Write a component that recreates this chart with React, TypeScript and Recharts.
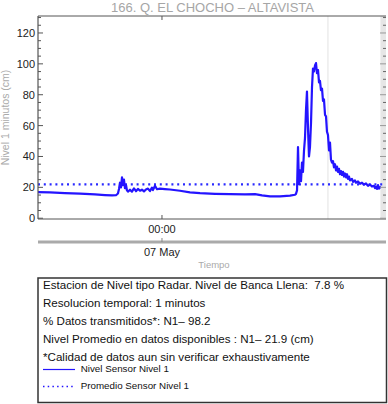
import React from 'react';
import { LineChart, Line, XAxis, YAxis, ReferenceLine, ReferenceArea } from 'recharts';

const FONT = '"Liberation Sans", Arial, Helvetica, sans-serif';

// ---- texts ----
const chartTitle = '166. Q. EL CHOCHO – ALTAVISTA';
const yAxisTitle = 'Nivel 1 minutos (cm)';
const xAxisTitle = 'Tiempo';
const infoLines = [
  'Estacion de Nivel tipo Radar. Nivel de Banca Llena:  7.8 %',
  'Resolucion temporal: 1 minutos',
  '% Datos transmitidos*: N1– 98.2',
  'Nivel Promedio en datos disponibles : N1– 21.9 (cm)',
  '*Calidad de datos aun sin verificar exhaustivamente',
];
const seriesNames = ['Nivel Sensor Nivel 1', 'Promedio Sensor Nivel 1'];

// ---- axes ----
const timeTicks = [0]; // hours from 07 May 00:00
const timeTickLabels = ['00:00'];
const dateTickLabels = ['07 May'];
const xDomain = [-17.71, 32];
const yDomain = [-0.5, 131];
const yTicks = [0, 5, 10, 15, 20, 25, 30, 35, 40, 45, 50, 55, 60, 65, 70, 75, 80, 85, 90, 95, 100, 105, 110, 115, 120, 125, 130];
const yLabelStep = 20;
const markerHour = 23.71;
const bandStartHour = 31.2;
const promedioNivel = 21.9;

// ---- series: hours from 07 May 00:00, level in cm ----
const hours = [
  -17.71, -16.0, -13.86, -11.71, -9.57, -8.14, -7.14, -6.57, -6.29, -6.14,
  -6.0, -5.86, -5.71, -5.57, -5.43, -5.29, -5.14, -5.0, -4.86, -4.57,
  -4.29, -4.0, -3.71, -3.43, -3.14, -2.86, -2.57, -2.29, -2.0, -1.71,
  -1.43, -1.29, -1.0, -0.71, -0.29, 0.43, 1.14, 2.57, 4.0, 5.43,
  7.57, 9.71, 11.86, 13.29, 14.29, 15.43, 16.86, 18.29, 19.0, 19.14,
  19.29, 19.43, 19.57, 19.71, 19.86, 20.0, 20.14, 20.29, 20.43, 20.57,
  20.71, 20.86, 21.0, 21.14, 21.29, 21.43, 21.57, 21.71, 21.86, 22.0,
  22.14, 22.29, 22.43, 22.57, 22.71, 22.86, 23.0, 23.14, 23.29, 23.43,
  23.57, 23.71, 23.86, 24.0, 24.14, 24.29, 24.43, 24.57, 24.71, 24.86,
  25.0, 25.14, 25.29, 25.43, 25.57, 25.71, 25.86, 26.0, 26.14, 26.29,
  26.43, 26.57, 26.71, 26.86, 27.14, 27.29, 27.57, 27.71, 28.0, 28.29,
  28.57, 28.86, 29.14, 29.43, 29.71, 30.0, 30.29, 30.43, 30.57, 30.71,
  30.86, 31.0, 31.14, 31.29,
];
const nivel = [
  16.9, 16.7, 16.3, 15.9, 15.4, 15.0, 14.8, 14.9, 16.0, 19.0,
  23.0, 20.0, 26.5, 21.5, 25.0, 19.5, 21.5, 18.0, 17.2, 18.5,
  17.2, 19.3, 17.5, 19.0, 17.8, 18.5, 17.4, 18.6, 19.2, 17.6,
  19.8, 18.2, 21.0, 18.8, 19.2, 18.9, 18.6, 17.8, 16.8, 16.2,
  15.8, 15.6, 15.5, 15.6, 14.8, 14.1, 14.1, 14.6, 15.2, 15.8,
  18.0, 46.0, 22.0, 31.0, 24.0, 36.0, 30.0, 44.0, 52.0, 70.0,
  82.0, 58.0, 40.0, 46.0, 62.0, 85.0, 97.0, 95.0, 99.0, 100.5,
  94.0, 96.0, 88.0, 89.0, 83.0, 84.0, 76.0, 77.0, 67.0, 66.0,
  56.0, 54.0, 44.0, 49.0, 38.0, 36.0, 37.0, 33.0, 35.0, 31.0,
  33.5, 30.0, 32.0, 28.5, 30.5, 28.0, 30.0, 27.0, 29.0, 26.5,
  28.5, 25.5, 27.0, 24.5, 25.5, 23.5, 24.5, 23.0, 23.8, 22.3,
  23.0, 21.8, 22.5, 21.0, 21.8, 20.5, 21.0, 19.5, 20.5, 19.0,
  21.5, 19.2, 20.0, 20.3,
];

const data = hours.map((h, i) => ({ h, nivel: nivel[i] }));

// ---- layout ----
const W = 388;
const CHART_H = 278;
const PLOT_RIGHT = 386;
const LINE_COLOR = '#2414ff';
const AXIS_COLOR = '#555555';

const YTick = (props: any) => {
  const { x, y, payload } = props;
  const v = payload.value as number;
  const major = v % yLabelStep === 0;
  const ax = x + 3;
  return (
    <g>
      <line x1={ax} x2={ax + (major ? 5 : 3)} y1={y} y2={y} stroke={AXIS_COLOR} strokeWidth={1} />
      <line x1={PLOT_RIGHT} x2={PLOT_RIGHT - (major ? 6 : 3)} y1={y} y2={y} stroke={major ? '#999' : '#666'} strokeWidth={1} />
      {major && v <= 120 && (
        <text x={x} y={y} dy="0.36em" textAnchor="end" fontSize={11} fill="#222" fontFamily={FONT}>
          {v}
        </text>
      )}
    </g>
  );
};

const TimeTick = (props: any) => {
  const { x, y, index } = props;
  return (
    <g>
      <line x1={x} x2={x} y1={y} y2={y - 4} stroke={AXIS_COLOR} />
      <text x={x} y={y + 14} textAnchor="middle" fontSize={11} fill="#222" fontFamily={FONT}>
        {timeTickLabels[index]}
      </text>
    </g>
  );
};

const DateTick = (props: any) => {
  const { x, y, index } = props;
  return (
    <g>
      <line x1={x} x2={x} y1={y} y2={y - 4} stroke="#888" />
      <text x={x} y={y + 13.7} textAnchor="middle" fontSize={11} fill="#222" fontFamily={FONT}>
        {dateTickLabels[index]}
      </text>
    </g>
  );
};

const TopTick = (props: any) => {
  const { x, y } = props;
  return <line x1={x} x2={x} y1={y} y2={y + 4} stroke={AXIS_COLOR} />;
};

export default function App() {
  return (
    <div style={{ position: 'absolute', left: 0, top: 0, width: W, height: 404, background: '#fff', fontFamily: FONT }}>
      <LineChart
        width={W}
        height={CHART_H}
        data={data}
        margin={{ top: 15, right: 2, bottom: 0, left: 0 }}
      >
        <ReferenceArea
          xAxisId="x1time"
          yAxisId="level"
          x1={bandStartHour}
          x2={xDomain[1]}
          y1={yDomain[0]}
          y2={yDomain[1]}
          fill="#e6e6e6"
          fillOpacity={1}
          stroke="none"
          ifOverflow="visible"
        />
        <ReferenceLine xAxisId="x1time" yAxisId="level" x={markerHour} stroke="#e2e2e2" strokeWidth={1} />
        <XAxis
          xAxisId="x0top"
          orientation="top"
          type="number"
          dataKey="h"
          domain={xDomain}
          allowDataOverflow
          ticks={timeTicks}
          height={1}
          tickLine={false}
          tickSize={0}
          tickMargin={0}
          tick={<TopTick />}
          axisLine={{ stroke: AXIS_COLOR, strokeWidth: 1 }}
          interval={0}
        />
        <XAxis
          xAxisId="x1time"
          type="number"
          dataKey="h"
          domain={xDomain}
          allowDataOverflow
          ticks={timeTicks}
          height={23}
          tickLine={false}
          tickSize={0}
          tickMargin={0}
          tick={<TimeTick />}
          axisLine={{ stroke: AXIS_COLOR, strokeWidth: 1 }}
          interval={0}
        />
        <XAxis
          xAxisId="x2date"
          type="number"
          dataKey="h"
          domain={xDomain}
          allowDataOverflow
          ticks={timeTicks}
          height={36}
          tickLine={false}
          tickSize={0}
          tickMargin={0}
          tick={<DateTick />}
          axisLine={{ stroke: '#aaaaaa', strokeWidth: 3 }}
          interval={0}
        />
        <YAxis
          yAxisId="level"
          type="number"
          domain={yDomain}
          allowDataOverflow
          ticks={yTicks}
          width={38}
          tickLine={false}
          tickSize={0}
          tickMargin={3}
          tick={<YTick />}
          axisLine={{ stroke: AXIS_COLOR, strokeWidth: 1.2 }}
          interval={0}
        />
        <ReferenceLine
          xAxisId="x1time"
          yAxisId="level"
          y={promedioNivel}
          stroke="#2a2aff"
          strokeWidth={2.2}
          strokeDasharray="2 3.8"
        />
        <Line
          xAxisId="x1time"
          yAxisId="level"
          type="linear"
          dataKey="nivel"
          stroke={LINE_COLOR}
          strokeWidth={2.2}
          strokeLinejoin="round"
          dot={false}
          isAnimationActive={false}
        />
      </LineChart>
      <svg
        width={W}
        height={404}
        style={{ position: 'absolute', left: 0, top: 0, pointerEvents: 'none' }}
      >
        <text x={212.5} y={12.3} textAnchor="middle" fontSize={13} fill="#a6a6a6" fontFamily={FONT}>
          {chartTitle}
        </text>
        <text
          x={9}
          y={117.5}
          transform="rotate(-90 9 117.5)"
          textAnchor="middle"
          fontSize={10.5}
          fill="#aaaaaa"
          fontFamily={FONT}
        >
          {yAxisTitle}
        </text>
        <text x={214} y={267.5} textAnchor="middle" fontSize={9.5} fill="#aaaaaa" fontFamily={FONT}>
          {xAxisTitle}
        </text>
        <rect x={38} y={278} width={348.5} height={124.5} fill="#fff" stroke="#333" strokeWidth={1.5} />
        {infoLines.map((t, i) => (
          <text
            key={i}
            x={43}
            y={288.8 + i * 18.1}
            fontSize={11.6}
            fill="#111"
            fontFamily={FONT}
            style={{ whiteSpace: 'pre' }}
          >
            {t}
          </text>
        ))}
        <line x1={43} x2={75} y1={369.5} y2={369.5} stroke={LINE_COLOR} strokeWidth={1.2} />
        <text x={80.7} y={371.8} fontSize={9.8} fill="#111" fontFamily={FONT}>
          {seriesNames[0]}
        </text>
        <line x1={43} x2={75} y1={386.5} y2={386.5} stroke={LINE_COLOR} strokeWidth={1.5} strokeDasharray="1.5 3.2" />
        <text x={80.7} y={388.8} fontSize={9.8} fill="#111" fontFamily={FONT}>
          {seriesNames[1]}
        </text>
      </svg>
    </div>
  );
}
